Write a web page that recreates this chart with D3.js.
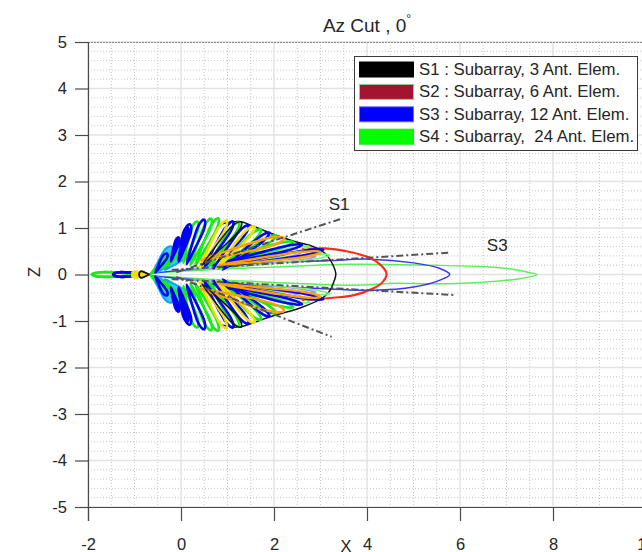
<!DOCTYPE html>
<html><head><meta charset="utf-8">
<script src="https://cdn.jsdelivr.net/npm/d3@7"></script>
<style>
body{margin:0;background:#fff;}
svg{display:block;font-family:"Liberation Sans",Arial,Helvetica,sans-serif;}
</style></head><body>
<svg id="c" width="642" height="552"></svg>
<script>
// ---------- data ----------
const xTicks=[-2,0,2,4,6,8,10];
const zTicks=[-5,-4,-3,-2,-1,0,1,2,3,4,5];
const titleText="Az Cut , 0";
const legendLabels=["S1 : Subarray, 3 Ant. Elem.","S2 : Subarray, 6 Ant. Elem.","S3 : Subarray, 12 Ant. Elem.","S4 : Subarray,  24 Ant. Elem."];
const legendColors=["#000000","#a2142f","#0000ff","#00ff00"];
const legendEdges=["#000000","#8fcf8f","#6a6aff","#22e022"];

// main lobes, outline points [x, z]
const s1Main=[[0.85,1.08],[1.25,1.14],[1.6,1.02],[2.0,0.86],[2.41,0.72],[2.85,0.6],[3.1,0.45],[3.27,0.2],[3.33,0],
  [3.27,-0.2],[3.2,-0.35],[3.05,-0.5],[2.56,-0.72],[2.0,-0.88],[1.6,-1.02],[1.25,-1.13],[0.85,-1.08]];
const s2Main=[[2.6,0.55],[3.1,0.56],[3.56,0.5],[4.06,0.36],[4.3,0.2],[4.42,0.02],[4.32,-0.18],[4.13,-0.3],[3.7,-0.45],[3.27,-0.5],[2.6,-0.55]];
const s3Main=[[-0.7,0],[0.5,0.13],[1.5,0.22],[2.5,0.28],[3.2,0.3],[4.06,0.33],[5.0,0.25],[5.57,0.13],[5.78,0],
  [5.57,-0.12],[5.0,-0.27],[4.13,-0.34],[3.2,-0.31],[2.5,-0.28],[1.5,-0.22],[0.5,-0.13]];
const s4Main=[[-0.7,0],[0.6,0.1],[2.0,0.16],[3.63,0.22],[5.35,0.2],[6.43,0.17],[7.15,0.11],[7.45,0.05],[7.66,0],
  [7.22,-0.1],[6.43,-0.17],[5.35,-0.2],[4.64,-0.19],[3.63,-0.23],[2.0,-0.17],[0.6,-0.1]];

// side lobes (upper half, mirrored below): [baseX, baseZ, tipX, tipZ, halfWidth]
const s4Lobes=[[0.05,0.25,0.35,1.14,0.07],[0.2,0.2,0.65,1.2,0.07],[0.3,0.18,0.8,1.21,0.07],[0.56,0.14,1.25,1.12,0.07],
  [0.8,0.12,1.72,0.97,0.07],[0.9,0.15,2.05,0.84,0.06],[0.6,0.2,2.41,0.7,0.06],[-0.65,0.02,-0.1,0.45,0.07],
  [-0.35,0.15,0.1,0.7,0.06],[-0.7,0,-1.92,0,0.05]];
const s4LightLobes=[[0.7,0.2,2.77,0.6,0.05],[1.0,0.15,3.2,0.42,0.05],[0.4,0.12,2.3,0.45,0.04]];
const s3Lobes=[[-0.05,0.28,0.19,1.08,0.07],[0.12,0.22,0.5,1.18,0.07],[0.5,0.15,1.12,1.14,0.07],[0.7,0.13,1.45,1.06,0.07],
  [0.9,0.1,1.9,0.9,0.06],[0.7,0.2,2.6,0.64,0.05],[0.7,0.15,3.06,0.53,0.05],[-0.55,0.05,-0.3,0.45,0.05],[-0.7,0,-1.46,0,0.05]];
const s3SolidLobes=[[-0.05,0.3,0.14,1.02,0.06],[-0.22,0.28,-0.05,0.8,0.045]];
const yellowLobes=[[0.41,0.17,0.98,1.16,0.07],[0.75,0.12,1.58,1.04,0.07],[-0.72,0.01,-1.05,0.03,0.035]];
const yellowThin=[[0.3,0.15,2.0,0.52,0.04]];
const orangeLobes=[[0.4,0.3,2.22,0.78,0.09],[0.8,0.2,3.0,0.48,0.06]];
const lavenderLobes=[[0.8,0.15,2.6,0.48,0.04],[0.2,0.1,2.9,0.38,0.035]];
const cyanLobes=[[-0.6,0.05,-0.2,0.6,0.08],[-0.5,0.05,0.0,0.55,0.09],[-0.35,0.1,0.1,0.45,0.07]];
const s1Lobes=[[0.45,0.2,1.3,1.13,0.09],[-0.7,0,-0.9,0,0.07]];

// beam edge (dash-dot) lines [x1,z1,x2,z2]
const beamLines=[[-0.1,0.05,3.42,1.19],[-0.1,-0.05,3.24,-1.34],[-0.2,0.1,5.78,0.47],[-0.2,-0.1,5.86,-0.44]];
const beamLabels=[["S1",3.4,1.5],["S3",6.8,0.63]];

// ---------- drawing ----------
const svg=d3.select("#c");
const x=d3.scaleLinear().domain([-2,10]).range([88,646]);
const y=d3.scaleLinear().domain([-5,5]).range([507,42]);
const ink="#262626";

svg.append("defs").append("clipPath").attr("id","clip").append("rect")
  .attr("x",88).attr("y",42).attr("width",560).attr("height",465);

const grid=svg.append("g");
x.ticks(24).filter(v=>Math.abs(v%2)>1e-6).forEach(v=>{
  grid.append("line").attr("x1",x(v)).attr("x2",x(v)).attr("y1",y(5)).attr("y2",y(-5))
    .attr("stroke","#c6c6c6").attr("stroke-width",1).attr("stroke-dasharray","1,2");
});
y.ticks(50).filter(v=>Math.abs(v-Math.round(v))>1e-6).forEach(v=>{
  grid.append("line").attr("x1",x(-2)).attr("x2",642).attr("y1",y(v)).attr("y2",y(v))
    .attr("stroke","#c6c6c6").attr("stroke-width",1).attr("stroke-dasharray","1,2");
});
xTicks.forEach(v=>grid.append("line").attr("x1",x(v)).attr("x2",x(v)).attr("y1",y(5)).attr("y2",y(-5))
  .attr("stroke","#dcdcdc").attr("stroke-width",1.2));
zTicks.forEach(v=>grid.append("line").attr("x1",x(-2)).attr("x2",642).attr("y1",y(v)).attr("y2",y(v))
  .attr("stroke","#e2e2e2").attr("stroke-width",1.6));
grid.append("line").attr("x1",x(-2)).attr("x2",642).attr("y1",y(5)+0.5).attr("y2",y(5)+0.5)
  .attr("stroke","#8a8a8a").attr("stroke-width",1).attr("stroke-dasharray","2,1");

const plot=svg.append("g").attr("clip-path","url(#clip)");
const closed=d3.line().x(d=>x(d[0])).y(d=>y(d[1])).curve(d3.curveCatmullRomClosed.alpha(0.5));
const open=d3.line().x(d=>x(d[0])).y(d=>y(d[1])).curve(d3.curveCatmullRom.alpha(0.5));

function mainLobe(pts,color,w){
  plot.append("path").attr("d",closed(pts)).attr("fill","none").attr("stroke",color).attr("stroke-width",w);
}
mainLobe(s4Main,"#5cf05c",1.5);
mainLobe(s3Main,"#3535ff",1.5);
plot.append("path").attr("d",open(s2Main)).attr("fill","none").attr("stroke","#ff2a1a").attr("stroke-width",2.2);
plot.append("path").attr("d",open(s1Main)).attr("fill","none").attr("stroke","#141414").attr("stroke-width",1.5);

const profile=[[0,0],[0.3,0.5],[0.6,0.9],[0.82,1],[0.96,0.55],[1,0]];
function lobePts(l,s){
  const bx=l[0],bz=s*l[1],tx=l[2],tz=s*l[3],hw=l[4];
  const dx=tx-bx,dz=tz-bz,L=Math.hypot(dx,dz),ux=dx/L,uz=dz/L,nx=-uz,nz=ux;
  const side=k=>profile.map(p=>[bx+ux*p[0]*L+nx*p[1]*hw*k,bz+uz*p[0]*L+nz*p[1]*hw*k]);
  const a=side(1),b=side(-1).slice(1,-1).reverse();
  return a.concat(b);
}
function lobes(arr,stroke,w,fill){
  arr.forEach(l=>[1,-1].forEach(s=>{
    plot.append("path").attr("d",closed(lobePts(l,s)))
      .attr("fill",fill||"none").attr("stroke",stroke).attr("stroke-width",w).attr("stroke-linejoin","round");
  }));
}
lobes(cyanLobes,"#0aa6f0",2,"#3cc8ff");
lobes(lavenderLobes,"#9a9aff",1.4);
lobes(s4LightLobes,"#7cf07c",1.6);
lobes(yellowThin,"#e8dc30",1.4);
lobes(s4Lobes,"#18ec18",2.6);
lobes(s3Lobes,"#0000ff",2.6);
lobes(s3SolidLobes,"#0000ee",2.4,"#0000ff");
lobes(yellowLobes,"#f0e000",2.6);
lobes(orangeLobes,"#ffa000",2.4);
lobes(s1Lobes,"#141414",1.5);

beamLines.forEach(b=>plot.append("line").attr("x1",x(b[0])).attr("y1",y(b[1])).attr("x2",x(b[2])).attr("y2",y(b[3]))
  .attr("stroke","#555").attr("stroke-width",2).attr("stroke-dasharray","7,3,2,3"));
beamLabels.forEach(t=>svg.append("text").attr("x",x(t[1])).attr("y",y(t[2])).attr("text-anchor","middle")
  .attr("dominant-baseline","central").attr("font-size",17).attr("fill",ink).text(t[0]));

// axes
const ax=svg.append("g").attr("transform","translate(88,0)")
  .call(d3.axisLeft(y).tickValues(zTicks).tickSize(13).tickPadding(8).tickFormat(d=>String(d)));
const bx=svg.append("g").attr("transform","translate(0,507)")
  .call(d3.axisBottom(x).tickValues(xTicks).tickSize(14).tickPadding(17).tickFormat(d=>String(d)));
[ax,bx].forEach(g=>{g.select(".domain").remove();
  g.selectAll("line").attr("stroke","#4a4a4a").attr("stroke-width",1.2);
  g.selectAll("text").attr("font-size",16.5).attr("fill",ink).attr("font-family","Liberation Sans, Arial, sans-serif");});
svg.append("line").attr("x1",88.5).attr("x2",88.5).attr("y1",42).attr("y2",521).attr("stroke","#4a4a4a").attr("stroke-width",1.2);
svg.append("line").attr("x1",88).attr("x2",642).attr("y1",507.5).attr("y2",507.5).attr("stroke","#4a4a4a").attr("stroke-width",1.2);

svg.append("text").attr("x",346).attr("y",552).attr("text-anchor","middle").attr("font-size",16.5).attr("fill",ink).text("X");
svg.append("text").attr("transform","translate(40,272) rotate(-90)").attr("text-anchor","middle")
  .attr("font-size",16.5).attr("fill",ink).text("Z");

const tt=svg.append("text").attr("x",367).attr("y",32).attr("text-anchor","middle").attr("font-size",19).attr("fill",ink);
tt.append("tspan").text(titleText);
tt.append("tspan").attr("dy",-9).attr("font-size",12).text("°");

// legend
const lg=svg.append("g");
lg.append("rect").attr("x",354.5).attr("y",56.5).attr("width",283).attr("height",94)
  .attr("fill","#fff").attr("stroke","#3a3a3a").attr("stroke-width",1);
legendLabels.forEach((t,i)=>{
  const top=62+i*22.4;
  lg.append("rect").attr("x",359.5).attr("y",top).attr("width",54).attr("height",15)
    .attr("fill",legendColors[i]).attr("stroke",legendEdges[i]).attr("stroke-width",1);
  lg.append("text").attr("x",419).attr("y",top+13).attr("font-size",16.8).attr("fill",ink)
    .style("white-space","pre").text(t);
});
</script>
</body></html>
